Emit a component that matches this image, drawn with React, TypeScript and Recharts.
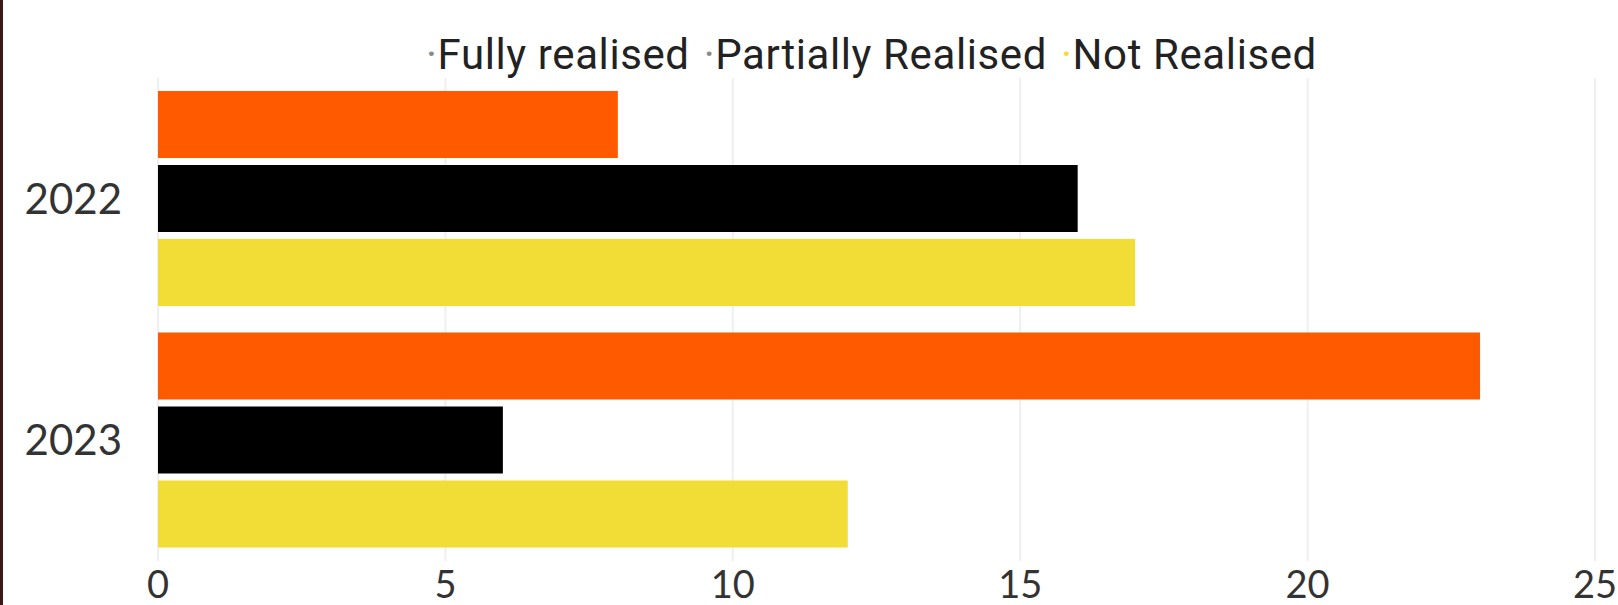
import React from 'react';
import { BarChart, Bar, XAxis, YAxis, CartesianGrid, Legend } from 'recharts';

const years = ['2022', '2023'];
const fullyRealised = [8, 23];
const partiallyRealised = [16, 6];
const notRealised = [17, 12];
const xTicks = [0, 5, 10, 15, 20, 25];
const seriesKeys = ['full', 'partial', 'not'];
const seriesNames = ['Fully realised', 'Partially Realised', 'Not Realised'];
const seriesColors = ['#FF5A00', '#000000', '#F2DC36'];
const dotColors = ['#8a8a8a', '#8a8a8a', '#F2DC36'];

const data = years.map((y, i) => ({
  year: y,
  full: fullyRealised[i],
  partial: partiallyRealised[i],
  not: notRealised[i],
}));

const renderLegend = () => (
  <div
    style={{
      display: 'flex',
      paddingLeft: 426,
      fontFamily: 'Roboto, sans-serif',
      fontSize: 42,
      letterSpacing: 0.6,
      color: '#222',
      height: 44,
      alignItems: 'center',
      whiteSpace: 'nowrap',
    }}
  >
    {seriesNames.map((n, i) => (
      <span key={n} style={{ marginRight: 14 }}>
        <span style={{ color: dotColors[i] }}>·</span>
        {n}
      </span>
    ))}
  </div>
);

export default function App() {
  return (
    <div style={{ position: 'fixed', left: 0, top: 0, width: 1618, height: 605, background: '#fff' }}>
      <div style={{ position: 'absolute', left: 0, top: 0, width: 3, height: 605, background: '#3a1818' }} />
      <BarChart
        width={1618}
        height={605}
        data={data}
        layout="vertical"
        margin={{ top: 34, right: 23, left: 0, bottom: 0 }}
        barCategoryGap={13}
        barGap={7}
      >
        <CartesianGrid horizontal={false} vertical={true} stroke="#efefef" strokeWidth={2} />
        <XAxis
          type="number"
          domain={[0, 25]}
          ticks={xTicks}
          axisLine={false}
          tickLine={false}
          tickSize={0}
          tickMargin={10}
          height={44}
          interval={0}
          tick={{ fontFamily: 'Lato, sans-serif', fontSize: 38, fill: '#333' }}
        />
        <YAxis
          type="category"
          dataKey="year"
          axisLine={false}
          tickLine={false}
          tickSize={0}
          tickMargin={36}
          width={158}
          tick={{ fontFamily: 'Lato, sans-serif', fontSize: 42, fill: '#333' }}
        />
        <Legend verticalAlign="top" content={renderLegend} wrapperStyle={{ top: 32, left: 0, width: 1618 }} />
        {seriesKeys.map((k, i) => (
          <Bar key={k} dataKey={k} name={seriesNames[i]} fill={seriesColors[i]} isAnimationActive={false} />
        ))}
      </BarChart>
    </div>
  );
}
